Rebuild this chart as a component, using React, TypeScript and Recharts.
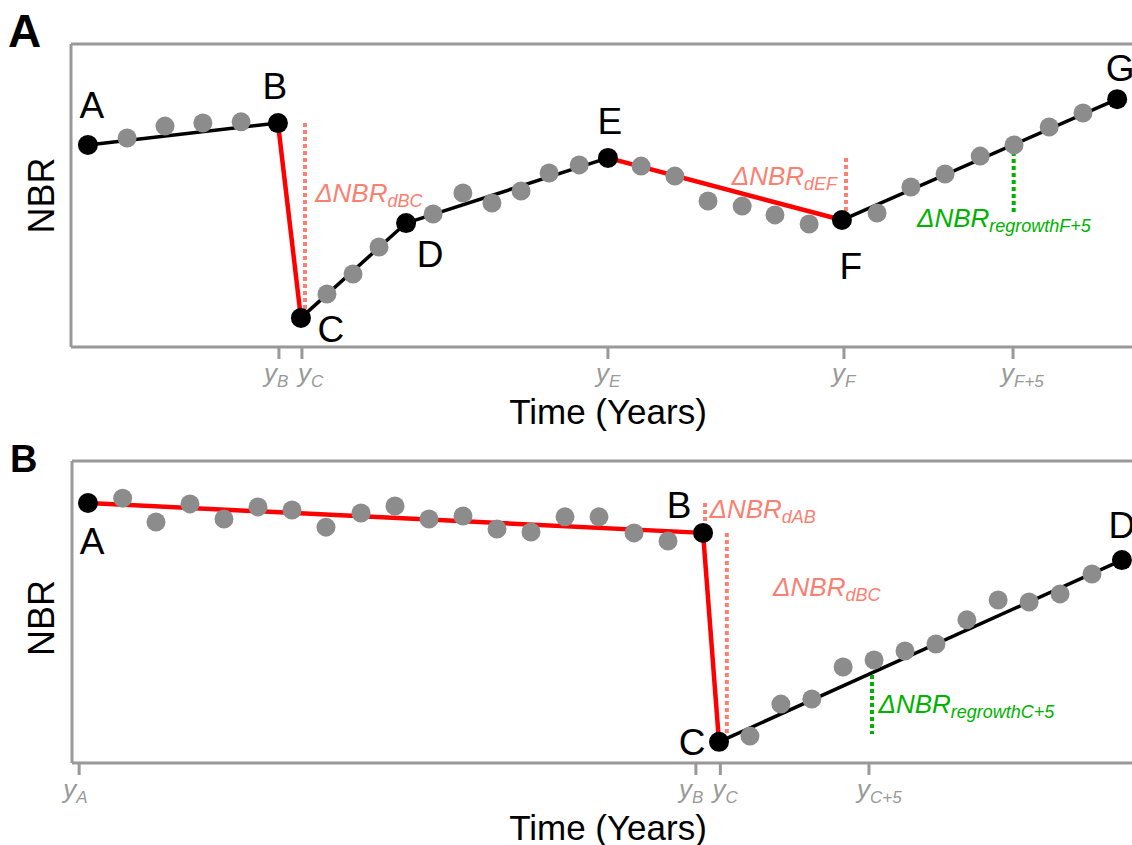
import { ComposedChart, Line, ReferenceLine, XAxis, YAxis } from "recharts";

const FONT = '"Liberation Sans", Arial, Helvetica, sans-serif';
const AXIS_GRAY = "#999999";
const DOT_GRAY = "#8c8c8c";
const LOSS_LINE = "#ff0000";
const NOTE_COLOR: Record<string, string> = { loss: "#fa8072", gain: "#00b200" };

// ---------- Panel A: segmented trajectory, two disturbances ----------
const obsA = [
  { x: 1.66, y: 69.0 }, { x: 2.78, y: 72.9 }, { x: 3.9, y: 73.9 }, { x: 5.03, y: 74.3 },
  { x: 7.57, y: 17.5 }, { x: 8.34, y: 24.1 }, { x: 9.11, y: 33.0 }, { x: 10.71, y: 43.9 },
  { x: 11.59, y: 50.8 }, { x: 12.45, y: 47.5 }, { x: 13.31, y: 51.5 }, { x: 14.14, y: 57.4 },
  { x: 15.03, y: 60.1 }, { x: 16.86, y: 59.7 }, { x: 17.86, y: 56.4 }, { x: 18.84, y: 48.2 },
  { x: 19.85, y: 46.5 }, { x: 20.82, y: 43.6 }, { x: 21.83, y: 40.6 }, { x: 23.84, y: 44.2 },
  { x: 24.84, y: 52.8 }, { x: 25.85, y: 57.1 }, { x: 26.89, y: 63.0 }, { x: 27.89, y: 66.7 },
  { x: 28.93, y: 72.6 }, { x: 29.93, y: 77.2 },
];
const breaksA = [
  { id: "A", x: 0.5, y: 66.7 },
  { id: "B", x: 6.12, y: 73.9 },
  { id: "C", x: 6.8, y: 9.6 },
  { id: "D", x: 9.91, y: 40.9 },
  { id: "E", x: 15.88, y: 62.4 },
  { id: "F", x: 22.8, y: 41.9 },
  { id: "G", x: 30.94, y: 81.8 },
];
const lossStartsA = ["B", "E"];
const ticksA = [6.15, 6.83, 15.88, 22.86, 27.86];
const tickSubsA = ["B", "C", "E", "F", "F+5"];
const guidesA = [
  { kind: "loss", x: 6.92, from: 73.9, to: 10.6 },
  { kind: "loss", x: 22.92, from: 62.4, to: 42.6 },
  { kind: "gain", x: 27.88, from: 66.7, to: 44.2 },
];
const notesA = [
  { kind: "loss", x: 7.22, y: 47.9, sub: "dBC" },
  { kind: "loss", x: 19.54, y: 53.5, sub: "dEF" },
  { kind: "gain", x: 25.02, y: 39.6, sub: "regrowthF+5" },
];

// ---------- Panel B: slow decline then abrupt loss ----------
const obsB = [
  { x: 1.49, y: 87.7 }, { x: 2.47, y: 79.8 }, { x: 3.47, y: 85.8 }, { x: 4.47, y: 80.8 },
  { x: 5.47, y: 84.8 }, { x: 6.47, y: 83.8 }, { x: 7.47, y: 78.1 }, { x: 8.5, y: 82.8 },
  { x: 9.5, y: 85.1 }, { x: 10.5, y: 80.8 }, { x: 11.5, y: 81.8 }, { x: 12.5, y: 77.5 },
  { x: 13.5, y: 76.5 }, { x: 14.5, y: 81.5 }, { x: 15.5, y: 81.5 }, { x: 16.53, y: 76.2 },
  { x: 17.53, y: 73.5 }, { x: 19.94, y: 8.9 }, { x: 20.85, y: 19.5 }, { x: 21.76, y: 21.2 },
  { x: 22.68, y: 31.8 }, { x: 23.59, y: 34.1 }, { x: 24.5, y: 37.1 }, { x: 25.41, y: 39.4 },
  { x: 26.32, y: 47.4 }, { x: 27.24, y: 54.0 }, { x: 28.15, y: 53.3 }, { x: 29.06, y: 56.0 },
  { x: 30.0, y: 62.6 },
];
const breaksB = [
  { id: "A", x: 0.47, y: 86.1 },
  { id: "B", x: 18.56, y: 76.2 },
  { id: "C", x: 19.03, y: 7.0 },
  { id: "D", x: 30.88, y: 67.2 },
];
const lossStartsB = ["A", "B"];
const ticksB = [0.21, 18.35, 19.07, 23.44];
const tickSubsB = ["A", "B", "C", "C+5"];
const guidesB = [
  { kind: "loss", x: 18.62, from: 86.1, to: 76.2 },
  { kind: "loss", x: 19.26, from: 76.2, to: 9.3 },
  { kind: "gain", x: 23.53, from: 29.1, to: 9.6 },
];
const notesB = [
  { kind: "loss", x: 18.75, y: 81.2, sub: "dAB" },
  { kind: "loss", x: 20.62, y: 55.4, sub: "dBC" },
  { kind: "gain", x: 23.72, y: 16.6, sub: "regrowthC+5" },
];

// label placement (px offsets from the point: centre x, baseline y)
const letterOffA: Record<string, number[]> = {
  A: [4, -27], B: [-3, -24], C: [30, 24], D: [24, 44], E: [2, -24], F: [9, 59], G: [3, -18],
};
const letterOffB: Record<string, number[]> = {
  A: [4, 51], B: [-24, -15], C: [-27, 13], D: [0, -22],
};
const tickShiftA = [-15, -4, -12, -12, -12];
const tickShiftB = [-16, -17, -8, -12];

type PanelProps = {
  tag: string;
  top: number;
  height: number;
  right: number;
  axisW: number;
  obs: { x: number; y: number }[];
  breaks: { id: string; x: number; y: number }[];
  lossStarts: string[];
  ticks: number[];
  tickSubs: string[];
  tickShift: number[];
  guides: { kind: string; x: number; from: number; to: number }[];
  notes: { kind: string; x: number; y: number; sub: string }[];
  letterOff: Record<string, number[]>;
  tagX: number;
  tagY: number;
  tagSize: number;
  nbrShift: number;
};

function Panel(p: PanelProps) {
  const plotBottom = p.height - 93;
  const segs = p.breaks.slice(1).map((b, i) => ({ a: p.breaks[i], b }));
  return (
    <div style={{ position: "absolute", left: 0, top: p.top }}>
      <ComposedChart
        width={1170}
        height={p.height}
        margin={{ top: 44, right: p.right, bottom: 0, left: 0 }}
      >
        <XAxis
          type="number"
          dataKey="x"
          domain={[0, 32]}
          allowDataOverflow
          ticks={p.ticks}
          interval={0}
          height={93}
          tickSize={12}
          axisLine={{ stroke: AXIS_GRAY, strokeWidth: 3 }}
          tickLine={{ stroke: AXIS_GRAY, strokeWidth: 3 }}
          tick={(t: any) => {
            const i = p.ticks.indexOf(t.payload.value);
            return (
              <text
                x={t.x + p.tickShift[i]}
                y={t.y + 21}
                textAnchor="start"
                fill={AXIS_GRAY}
                fontFamily={FONT}
                fontStyle="italic"
              >
                <tspan fontSize={26}>y</tspan>
                <tspan fontSize={17} dy={5}>
                  {p.tickSubs[i]}
                </tspan>
              </text>
            );
          }}
          label={(lp: any) => {
            const y0 = lp && lp.viewBox ? lp.viewBox.y : plotBottom;
            return (
              <text x={608} y={y0 + 77} textAnchor="middle" fontSize={35} fontFamily={FONT} fill="#000">
                Time (Years)
              </text>
            );
          }}
        />
        <YAxis
          type="number"
          dataKey="y"
          domain={[0, 100]}
          width={p.axisW}
          tick={false}
          tickLine={false}
          axisLine={{ stroke: AXIS_GRAY, strokeWidth: 3 }}
          label={(lp: any) => {
            const vb = lp && lp.viewBox ? lp.viewBox : { y: 44, height: plotBottom - 44 };
            const cy = vb.y + vb.height / 2 + p.nbrShift;
            return (
              <g>
                <text
                  x={54}
                  y={cy}
                  transform={`rotate(-90 54 ${cy})`}
                  textAnchor="middle"
                  fontSize={36}
                  fontFamily={FONT}
                  fill="#000"
                >
                  NBR
                </text>
                <text
                  x={p.tagX}
                  y={p.tagY}
                  fontSize={p.tagSize}
                  fontWeight="bold"
                  fontFamily={FONT}
                  fill="#000"
                >
                  {p.tag}
                </text>
              </g>
            );
          }}
        />
        <ReferenceLine y={100} stroke={AXIS_GRAY} strokeWidth={3} />

        {/* observed annual values */}
        <Line
          data={p.obs}
          dataKey="y"
          stroke="none"
          isAnimationActive={false}
          zIndex={410}
          dot={(d: any) => (
            <circle key={`o${d.index}`} cx={d.cx} cy={d.cy} r={9.5} fill={DOT_GRAY} stroke="none" />
          )}
          activeDot={false}
        />

        {/* fitted segments */}
        {segs.map((s, i) => {
          const loss = p.lossStarts.includes(s.a.id);
          return (
            <Line
              key={`seg${i}`}
              data={[s.a, s.b]}
              dataKey="y"
              stroke={loss ? LOSS_LINE : "#000"}
              strokeWidth={loss ? 4.5 : 3.5}
              dot={false}
              activeDot={false}
              isAnimationActive={false}
              zIndex={420}
            />
          );
        })}

        {/* vertices with letters */}
        <Line
          data={p.breaks}
          dataKey="y"
          stroke="none"
          isAnimationActive={false}
          zIndex={430}
          activeDot={false}
          dot={(d: any) => {
            const off = p.letterOff[d.payload.id] || [0, 0];
            return (
              <g key={`b${d.index}`}>
                <circle cx={d.cx} cy={d.cy} r={10} fill="#000" />
                <text
                  x={d.cx + off[0]}
                  y={d.cy + off[1]}
                  textAnchor="middle"
                  fontSize={37}
                  fontFamily={FONT}
                  fill="#000"
                >
                  {d.payload.id}
                </text>
              </g>
            );
          }}
        />

        {/* magnitude guides */}
        {p.guides.map((g, i) => (
          <Line
            key={`g${i}`}
            data={[
              { x: g.x, y: g.from },
              { x: g.x, y: g.to },
            ]}
            dataKey="y"
            stroke={NOTE_COLOR[g.kind]}
            strokeWidth={4}
            strokeDasharray="4 3"
            dot={false}
            activeDot={false}
            isAnimationActive={false}
            zIndex={440}
          />
        ))}

        {/* ΔNBR annotations */}
        <Line
          data={p.notes}
          dataKey="y"
          stroke="none"
          isAnimationActive={false}
          zIndex={450}
          activeDot={false}
          dot={(d: any) => (
            <text
              key={`n${d.index}`}
              x={d.cx}
              y={d.cy}
              fill={NOTE_COLOR[d.payload.kind]}
              fontFamily={FONT}
              fontStyle="italic"
            >
              <tspan fontSize={26}>ΔNBR</tspan>
              <tspan fontSize={18} dy={5}>
                {d.payload.sub}
              </tspan>
            </text>
          )}
        />
      </ComposedChart>
    </div>
  );
}

export default function App() {
  return (
    <div
      style={{
        position: "absolute",
        left: 0,
        top: 0,
        width: 1132,
        height: 845,
        overflow: "hidden",
        background: "#fff",
      }}
    >
      <Panel
        tag="A"
        top={0}
        height={440}
        right={17}
        axisW={71}
        obs={obsA}
        breaks={breaksA}
        lossStarts={lossStartsA}
        ticks={ticksA}
        tickSubs={tickSubsA}
        tickShift={tickShiftA}
        guides={guidesA}
        notes={notesA}
        letterOff={letterOffA}
        tagX={8}
        tagY={47}
        tagSize={46}
        nbrShift={0}
      />
      <Panel
        tag="B"
        top={417}
        height={439}
        right={10}
        axisW={72}
        obs={obsB}
        breaks={breaksB}
        lossStarts={lossStartsB}
        ticks={ticksB}
        tickSubs={tickSubsB}
        tickShift={tickShiftB}
        guides={guidesB}
        notes={notesB}
        letterOff={letterOffB}
        tagX={10}
        tagY={55}
        tagSize={38}
        nbrShift={6}
      />
    </div>
  );
}
